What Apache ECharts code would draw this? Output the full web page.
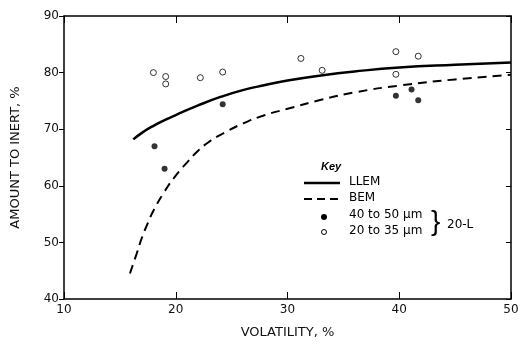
<!DOCTYPE html>
<html><head><meta charset="utf-8">
<script src="https://cdn.jsdelivr.net/npm/echarts@6/dist/echarts.min.js"></script>
<style>html,body{margin:0;padding:0;background:#fff}#c{width:531px;height:344px}</style>
</head><body><div id="c"></div>
<script>
var xTicks = [10, 20, 30, 40, 50];
var yTicks = [40, 50, 60, 70, 80, 90];
var llem = [[16.2,68.2],[17,69.4],[18,70.6],[19,71.6],[20,72.5],[22,74.2],[24,75.7],[26,76.9],[28,77.8],[30,78.6],[33,79.5],[36,80.2],[40,80.9],[45,81.4],[50,81.8]];
var bem = [[15.9,44.5],[16.5,48],[17,51],[17.5,53.4],[18,55.6],[19,59],[20,61.8],[21,64.1],[22,66.2],[23,67.8],[24,69],[26,71],[28,72.5],[30,73.6],[33,75.2],[36,76.5],[40,77.7],[45,78.8],[50,79.6]];
var coarse = [[18.1,67.0],[19.0,63.0],[24.2,74.4],[39.7,75.9],[41.1,77.0],[41.7,75.1]];
var fine = [[18.0,80.0],[19.1,79.3],[19.1,78.0],[22.2,79.1],[24.2,80.1],[31.2,82.5],[33.1,80.4],[39.7,83.7],[39.7,79.7],[41.7,82.9]];
var legendNames = ['LLEM', 'BEM', '40 to 50 \u03bcm', '20 to 35 \u03bcm'];
var groupLabel = '20-L';

var F = '"Liberation Sans", Arial, sans-serif';
var FW = '"DejaVu Sans", sans-serif';
var chart = echarts.init(document.getElementById('c'), null, {renderer: 'canvas'});
var axLine = {show: true, lineStyle: {color: '#000', width: 1.5}};
var txt = {color: '#111', fontFamily: FW, fontSize: 12};
var nameTxt = {color: '#111', fontFamily: FW, fontSize: 13};
chart.setOption({
  animation: false,
  grid: {left: 64, right: 20, top: 16, bottom: 44},
  xAxis: [{
    type: 'value', min: 10, max: 50, interval: 10,
    axisLine: axLine, axisTick: {show: true, inside: true, length: 7, lineStyle: {color: '#000'}},
    splitLine: {show: false},
    axisLabel: Object.assign({margin: 5}, txt),
    name: 'VOLATILITY, %', nameLocation: 'middle', nameGap: 27,
    nameTextStyle: nameTxt
  }, {
    type: 'value', position: 'top', min: 10, max: 50, interval: 10,
    axisLine: axLine, axisTick: {show: true, inside: true, length: 7, lineStyle: {color: '#000'}},
    axisLabel: {show: false}, splitLine: {show: false}
  }],
  yAxis: [{
    type: 'value', min: 40, max: 90, interval: 10,
    axisLine: axLine, axisTick: {show: true, inside: false, length: 5, lineStyle: {color: '#000'}},
    splitLine: {show: false},
    axisLabel: Object.assign({margin: 5}, txt),
    name: 'AMOUNT TO INERT, %', nameLocation: 'middle', nameGap: 42, nameRotate: 90,
    nameTextStyle: nameTxt
  }, {
    type: 'value', position: 'right', min: 40, max: 90, interval: 10,
    axisLine: axLine, axisTick: {show: true, inside: true, length: 5, lineStyle: {color: '#000'}},
    axisLabel: {show: false}, splitLine: {show: false}
  }],
  series: [
    {name: legendNames[0], type: 'line', data: llem, smooth: true, showSymbol: false, lineStyle: {color: '#000', width: 2.5}},
    {name: legendNames[1], type: 'line', data: bem, smooth: true, showSymbol: false, lineStyle: {color: '#000', width: 2, type: [9, 6]}},
    {name: legendNames[2], type: 'scatter', data: coarse, symbolSize: 6, itemStyle: {color: '#000'}},
    {name: legendNames[3], type: 'scatter', data: fine, symbolSize: 6, itemStyle: {color: '#fff', borderColor: '#000', borderWidth: 1}}
  ],
  graphic: [
    {type: 'text', left: 321, top: 161, style: {text: 'Key', font: 'italic bold 11px ' + F, fill: '#000'}},
    {type: 'line', shape: {x1: 304, y1: 183, x2: 340, y2: 183}, style: {stroke: '#000', lineWidth: 2.5}},
    {type: 'text', left: 349, top: 176, style: {text: legendNames[0], font: '12px ' + FW, fill: '#000'}},
    {type: 'line', shape: {x1: 304, y1: 199, x2: 340, y2: 199}, style: {stroke: '#000', lineWidth: 2, lineDash: [8, 5]}},
    {type: 'text', left: 349, top: 192, style: {text: legendNames[1], font: '12px ' + FW, fill: '#000'}},
    {type: 'circle', shape: {cx: 324, cy: 217, r: 3}, style: {fill: '#000'}},
    {type: 'text', left: 349, top: 209, style: {text: legendNames[2], font: '12px ' + FW, fill: '#000'}},
    {type: 'circle', shape: {cx: 324, cy: 232, r: 2.5}, style: {fill: '#fff', stroke: '#000', lineWidth: 1}},
    {type: 'text', left: 349, top: 225, style: {text: legendNames[3], font: '12px ' + FW, fill: '#000'}},
    {type: 'text', left: 431, top: 208, style: {text: '}', font: '28px ' + F, fill: '#000'}},
    {type: 'text', left: 447, top: 219, style: {text: groupLabel, font: '12px ' + FW, fill: '#000'}}
  ]
});
</script></body></html>
